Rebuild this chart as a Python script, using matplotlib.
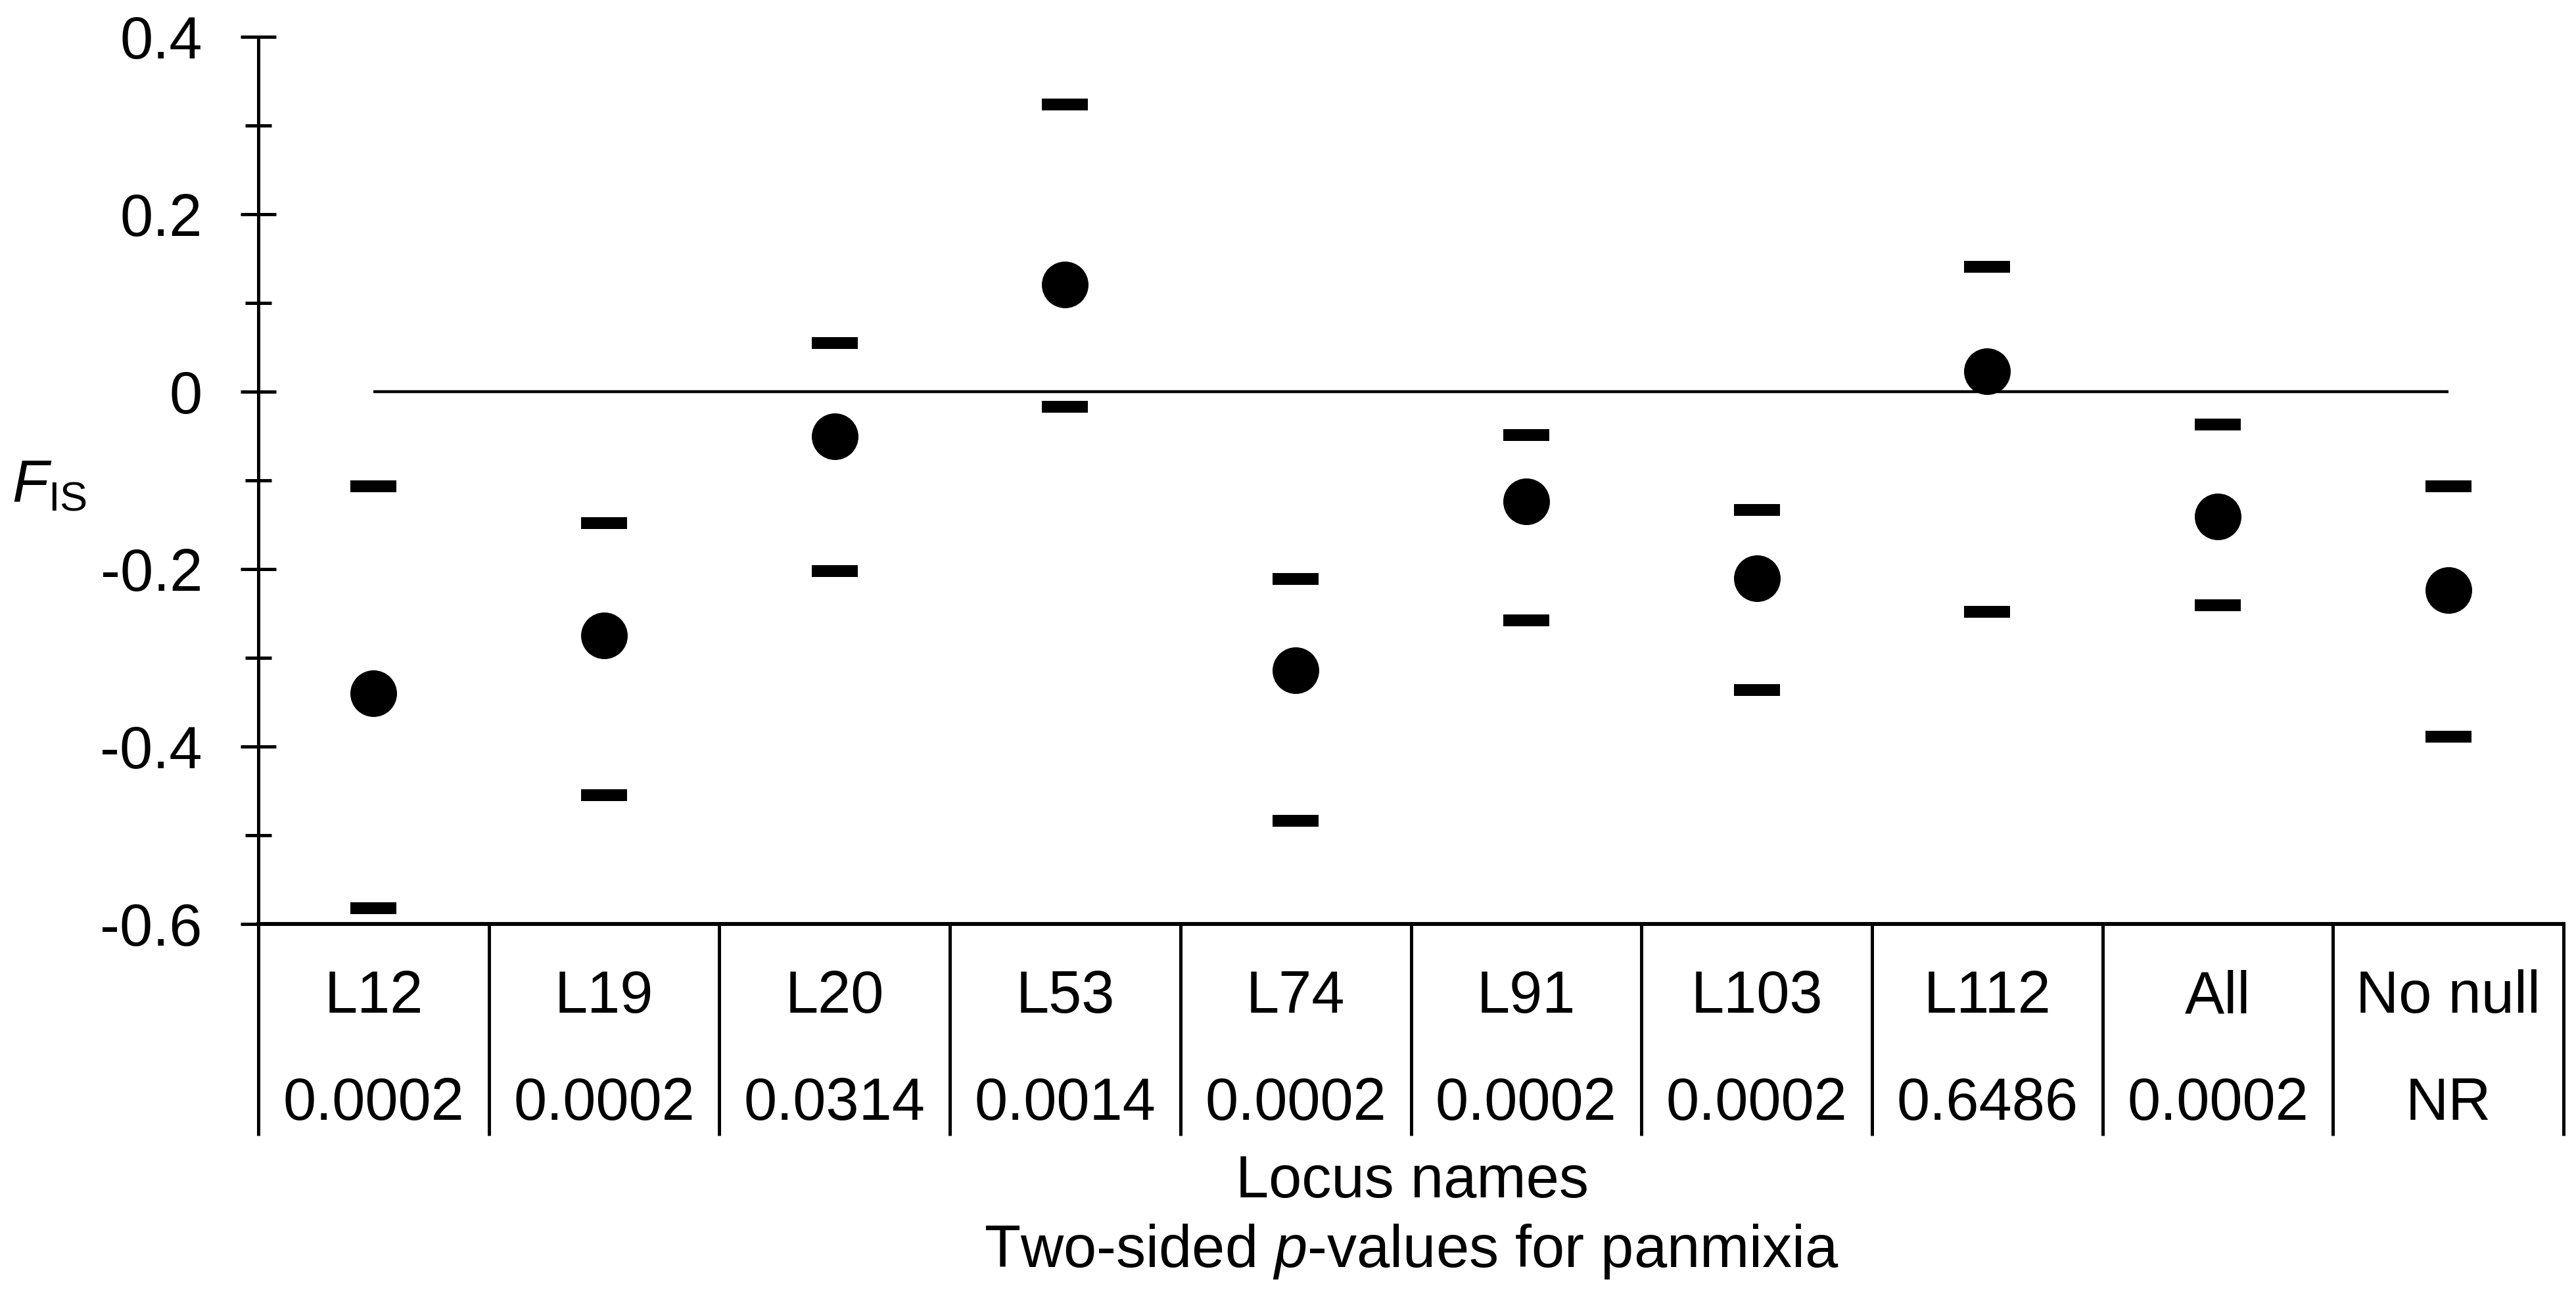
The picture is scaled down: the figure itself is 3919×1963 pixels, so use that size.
import numpy as np
import matplotlib
matplotlib.use("Agg")
import matplotlib.pyplot as plt
from matplotlib.path import Path

plt.rcParams['font.family'] = ['Liberation Sans', 'DejaVu Sans']
plt.rcParams['mathtext.fontset'] = 'custom'
plt.rcParams['mathtext.rm'] = 'Liberation Sans'
plt.rcParams['mathtext.it'] = 'Liberation Sans:italic'

# ---- data ----
loci = ['L12', 'L19', 'L20', 'L53', 'L74', 'L91', 'L103', 'L112', 'All', 'No null']
pvals = ['0.0002', '0.0002', '0.0314', '0.0014', '0.0002', '0.0002', '0.0002', '0.6486', '0.0002', 'NR']
fis = [-0.340, -0.275, -0.050, 0.121, -0.314, -0.124, -0.210, 0.023, -0.141, -0.224]
upper = [-0.107, -0.148, 0.055, 0.324, -0.211, -0.049, -0.133, 0.141, -0.037, -0.107]
lower = [-0.582, -0.455, -0.202, -0.017, -0.484, -0.258, -0.336, -0.248, -0.241, -0.389]
major_ticks = [-0.6, -0.4, -0.2, 0.0, 0.2, 0.4]
major_labels = ['-0.6', '-0.4', '-0.2', '0', '0.2', '0.4']
minor_ticks = [-0.5, -0.3, -0.1, 0.1, 0.3]

W, H, DPI = 3919, 1963, 100
FS = 65

fig = plt.figure(figsize=(W / DPI, H / DPI), dpi=DPI)
ax_left, ax_right, ax_top, ax_bottom = 393, 3900, 56, 1406
ax = fig.add_axes([ax_left / W, (H - ax_bottom) / H,
                   (ax_right - ax_left) / W, (ax_bottom - ax_top) / H])

n = len(loci)
xpos = np.arange(n) + 0.5
ax.set_xlim(0, n)
ax.set_ylim(-0.6, 0.4)

# zero reference line between first and last category
ax.hlines(0, xpos[0], xpos[-1], color='black', lw=3.2, zorder=1)

# dash marker (rectangle)
dash = Path([(-1, -0.26), (1, -0.26), (1, 0.26), (-1, 0.26), (-1, -0.26)],
            [Path.MOVETO, Path.LINETO, Path.LINETO, Path.LINETO, Path.CLOSEPOLY])
ax.plot(xpos, upper, ls='none', marker=dash, ms=51.1, mew=0, color='black', zorder=3)
ax.plot(xpos, lower, ls='none', marker=dash, ms=51.1, mew=0, color='black', zorder=3)
ax.plot(xpos, fis, ls='none', marker='o', ms=51.1, mew=0, color='black', zorder=4)

# spines
ax.spines['top'].set_visible(False)
ax.spines['right'].set_visible(False)
ax.spines['left'].set_linewidth(3.6)
ax.spines['bottom'].set_linewidth(4.3)
ax.spines['left'].set_capstyle('butt')

ax.set_yticks(major_ticks)
ax.set_yticklabels(major_labels)
ax.set_yticks(minor_ticks, minor=True)
ax.tick_params(axis='y', which='major', direction='inout', length=38.9, width=3.6,
               pad=41.8, labelsize=FS)
ax.tick_params(axis='y', which='minor', direction='inout', length=28.5, width=3.6)
ax.tick_params(axis='x', which='both', length=0, labelbottom=False)
ax.set_xticks([])

# table below the axis
table_depth = (1728 - ax_bottom) / (ax_bottom - ax_top)
ax.vlines(np.arange(n + 1), 0, -table_depth, transform=ax.get_xaxis_transform(),
          clip_on=False, color='black', lw=3.6, capstyle='butt')
row1_y = -(1541 - ax_bottom) / (ax_bottom - ax_top)
row2_y = -(1704 - ax_bottom) / (ax_bottom - ax_top)
trans = ax.get_xaxis_transform()
for x, name, p in zip(xpos, loci, pvals):
    ax.text(x, row1_y, name, transform=trans, ha='center', va='baseline', fontsize=FS)
    ax.text(x, row2_y, p, transform=trans, ha='center', va='baseline', fontsize=FS)

# x-axis titles
fig.text(2148 / W, (H - 1822) / H, 'Locus names', ha='center', va='baseline', fontsize=FS)
fig.text(2148 / W, (H - 1928) / H, r'Two-sided $\mathit{p}$-values for panmixia',
         ha='center', va='baseline', fontsize=FS)

# y-axis title
fig.text(18 / W, (H - 763) / H, r'$\mathit{F}_{\mathrm{IS}}$', ha='left', va='baseline',
         fontsize=FS)

fig.savefig('out.png', dpi=DPI, facecolor='white')
